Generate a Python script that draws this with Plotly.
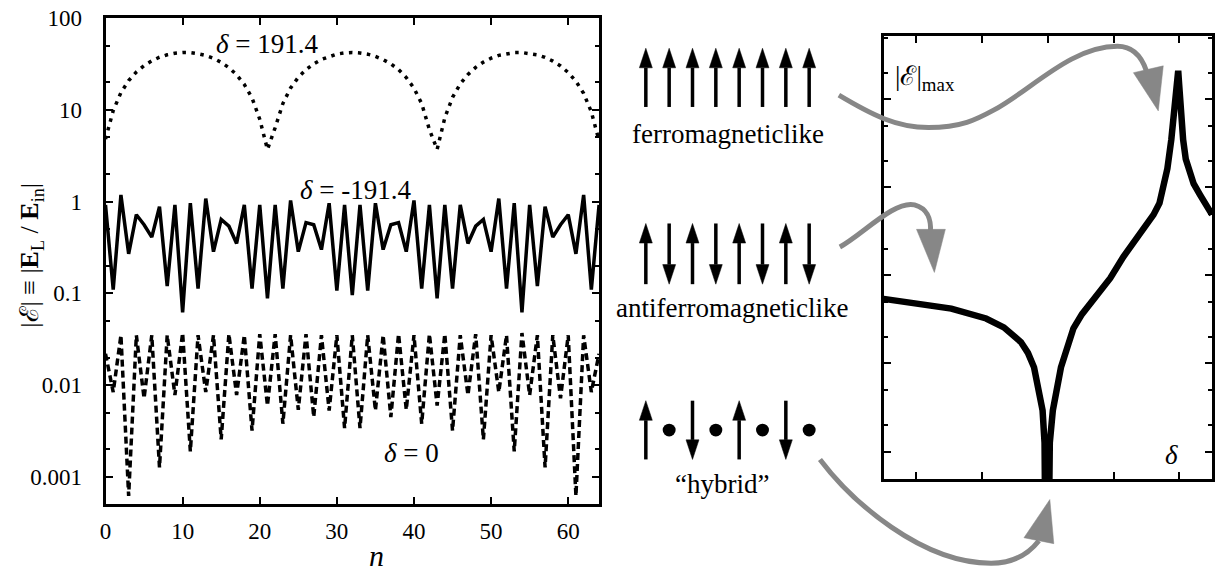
import plotly.graph_objects as go

W, H = 1217, 573

# ---------------- data: left panel ----------------
n = list(range(65))
e_pos = [4.8, 9.8, 15.4, 20.8, 25.8, 30.3, 34.2, 37.4, 39.8, 41.4,
         42.1, 42.0, 40.9, 39.1, 36.4, 32.9, 28.8, 24.1, 18.9, 13.5,
         7.9, 3.7, 6.4, 11.7, 17.3, 22.6, 27.4, 31.7, 35.4, 38.3,
         40.5, 41.7, 42.2, 41.7, 40.4, 38.2, 35.3, 31.7, 27.4, 22.5,
         17.2, 11.7, 6.1, 3.7, 8.2, 13.7, 19.2, 24.3, 29.0, 33.1,
         36.5, 39.2, 41.0, 42.0, 42.1, 41.3, 39.7, 37.3, 34.0, 30.1,
         25.5, 20.5, 15.1, 9.5, 4.6]
e_neg = [0.92, 0.11, 1.18, 0.27, 0.72, 0.56, 0.41, 0.88, 0.12, 0.92,
         0.062, 0.96, 0.113, 1.08, 0.285, 0.64, 0.54, 0.35, 0.92, 0.113,
         0.92, 0.088, 0.92, 0.113, 1.03, 0.285, 0.59, 0.56, 0.30, 0.96,
         0.107, 0.92, 0.096, 0.92, 0.107, 0.96, 0.30, 0.56, 0.59, 0.285,
         1.03, 0.113, 0.92, 0.088, 0.92, 0.113, 0.92, 0.35, 0.54, 0.64,
         0.285, 1.08, 0.113, 0.96, 0.062, 0.92, 0.12, 0.88, 0.41, 0.56,
         0.72, 0.27, 1.18, 0.11, 0.92]
e_zero = [0.022, 0.0084, 0.035, 0.00062, 0.035, 0.0072, 0.035, 0.00127, 0.035, 0.0078,
          0.037, 0.0019, 0.035, 0.0084, 0.035, 0.00256, 0.036, 0.0078, 0.035, 0.0032,
          0.036, 0.006, 0.036, 0.0038, 0.035, 0.0054, 0.036, 0.0045, 0.035, 0.0053,
          0.035, 0.0034, 0.035, 0.0034, 0.035, 0.0053, 0.035, 0.0045, 0.036, 0.0054,
          0.035, 0.0038, 0.036, 0.006, 0.036, 0.0032, 0.035, 0.0078, 0.036, 0.00256,
          0.035, 0.0084, 0.035, 0.0019, 0.037, 0.0078, 0.035, 0.00127, 0.035, 0.0072,
          0.035, 0.00062, 0.035, 0.0084, 0.022]
left_xticks = [0, 10, 20, 30, 40, 50, 60]
left_yticks = [0.001, 0.01, 0.1, 1, 10, 100]
left_yticklabels = ["0.001", "0.01", "0.1", "1", "10", "100"]
left_yminor = [0.002, 0.005, 0.02, 0.05, 0.2, 0.5, 2, 5, 20, 50]

# ---------------- data: right panel (schematic) ----------------
d_x = [0.0, 0.5, 1.03, 1.56, 1.83, 2.09, 2.197, 2.29, 2.36, 2.42, 2.45, 2.485,
       2.53, 2.576, 2.70, 2.79, 2.89, 3.02, 3.15, 3.45, 3.65, 3.88, 4.11, 4.20,
       4.26, 4.32, 4.38, 4.42, 4.47, 4.485, 4.50, 4.53, 4.56, 4.60, 4.64, 4.72,
       4.82, 4.91, 5.0]
d_emax = [54.1, 47.6, 41.9, 32.4, 25.7, 17.5, 13.2, 9.04, 5.14, 2.93, 1.26, 0.001,
          1.26, 2.93, 9.04, 14.3, 25.1, 36.3, 48.9, 92.7, 162.6, 285.8, 488.7, 660.7,
          977, 1626, 3467, 6166, 14454, 21000, 14454, 6607, 3467, 2089, 1622, 1096,
          815, 631, 489]
right_xticks = [0.5, 1.5, 2.5, 3.5, 4.5]
right_yticks = [1, 10, 100, 1000, 10000]
right_yminor = [2, 5, 20, 50, 200, 500, 2000, 5000, 20000, 50000]

# spin configurations (1 = up, -1 = down, 0 = dot)
ferro = [1, 1, 1, 1, 1, 1, 1, 1]
antiferro = [1, -1, 1, -1, 1, -1, 1, -1]
hybrid = [1, 0, -1, 0, 1, 0, -1, 0]

SERIF = "'Liberation Serif', 'Times New Roman', Times, 'DejaVu Serif', serif"

fig = go.Figure()
fig.add_trace(go.Scatter(x=n, y=e_pos, mode="lines",
                         line=dict(color="black", width=3.5, dash="3.5px,5.5px"),
                         xaxis="x", yaxis="y", showlegend=False))
fig.add_trace(go.Scatter(x=n, y=e_neg, mode="lines",
                         line=dict(color="black", width=3.5),
                         xaxis="x", yaxis="y", showlegend=False))
fig.add_trace(go.Scatter(x=n, y=e_zero, mode="lines",
                         line=dict(color="black", width=3.5, dash="7px,4px"),
                         xaxis="x", yaxis="y", showlegend=False))
fig.add_trace(go.Scatter(x=d_x, y=d_emax, mode="lines",
                         line=dict(color="black", width=6.5),
                         xaxis="x2", yaxis="y2", showlegend=False))


def X(p):
    return p / W


def Y(p):
    return 1 - p / H


def pt(a, b):
    return f"{X(a):.5f},{Y(b):.5f}"


def curve_path(start, segs):
    s = "M " + pt(*start)
    for c1, c2, e in segs:
        s += " C " + pt(*c1) + " " + pt(*c2) + " " + pt(*e)
    return s


def poly_path(pts):
    s = "M " + pt(*pts[0])
    for p in pts[1:]:
        s += " L " + pt(*p)
    return s + " Z"


shapes = []
GRAY = "#878787"

# gray curved arrows
gray_curves = [
    ((837, 85), [((870, 105), (895, 118), (927, 118)),
                 ((960, 118), (975, 110), (993, 100)),
                 ((1030, 80), (1070, 35), (1117, 35)),
                 ((1130, 35), (1140, 42), (1146, 60))]),
    ((838, 240), [((860, 228), (893, 192), (913, 197)),
                  ((927, 201), (930, 212), (929, 226))]),
    ((818, 457), [((850, 500), (920, 563), (990, 563)),
                  ((1012, 563), (1028, 553), (1038, 540))]),
]
gray_heads = [
    [(1133, 62), (1163, 55), (1158, 101)],
    [(915, 222), (944, 222), (933, 266)],
    [(1023, 537), (1053, 543), (1049, 498)],
]
for start, segs in gray_curves:
    shapes.append(dict(type="path", xref="paper", yref="paper",
                       path=curve_path(start, segs),
                       line=dict(color=GRAY, width=5)))
for h in gray_heads:
    shapes.append(dict(type="path", xref="paper", yref="paper", path=poly_path(h),
                       line=dict(color=GRAY, width=0.5), fillcolor=GRAY))

# spin arrows
spin_x0, spin_dx = 643, 23.45
rows = [(ferro, 37, 97), (antiferro, 216, 278), (hybrid, 397, 457)]
for spins, top, bot in rows:
    for i, s in enumerate(spins):
        cx = spin_x0 + i * spin_dx
        if s == 0:
            cy = (top + bot) / 2
            r = 6.5
            shapes.append(dict(type="circle", xref="paper", yref="paper",
                               x0=X(cx - r), x1=X(cx + r), y0=Y(cy + r), y1=Y(cy - r),
                               fillcolor="black", line=dict(color="black", width=0)))
            continue
        if s > 0:
            tip, base, tail = top, top + 20, bot
        else:
            tip, base, tail = bot, bot - 20, top
        shapes.append(dict(type="line", xref="paper", yref="paper",
                           x0=X(cx), x1=X(cx), y0=Y(tail), y1=Y(base),
                           line=dict(color="black", width=3.5)))
        shapes.append(dict(type="path", xref="paper", yref="paper",
                           path=poly_path([(cx - 6.5, base), (cx + 6.5, base), (cx, tip)]),
                           fillcolor="black", line=dict(color="black", width=0.5)))

fig.update_layout(shapes=shapes)


def ann(text, x, y, size=27, xanchor="center", angle=0):
    return dict(text=text, x=X(x), y=Y(y), xref="paper", yref="paper",
                showarrow=False, xanchor=xanchor, yanchor="middle",
                textangle=angle,
                font=dict(family=SERIF, size=size, color="black"))


annotations = [
    ann("<i>δ</i> = 191.4", 263, 33),
    ann("<i>δ</i> = -191.4", 352, 182),
    ann("<i>δ</i> = 0", 408, 450),
    ann("<i>n</i>", 372, 555, size=30),
    ann("|ℰ| ≡ |<b>E</b><sub>L</sub> / <b>E</b><sub>in</sub>|", 25, 248, size=26, angle=-90),
    ann("ferromagneticlike", 726, 125),
    ann("antiferromagneticlike", 730, 302),
    ann("“hybrid”", 720, 482),
    ann("|ℰ|<sub>max</sub>", 891, 67, xanchor="left"),
    ann("<i>δ</i>", 1171, 452),
]
fig.update_layout(annotations=annotations)

axis_common = dict(showline=True, linecolor="black", linewidth=3, mirror="ticks",
                   ticks="inside", tickcolor="black", tickwidth=2, ticklen=7,
                   showgrid=False, zeroline=False)

fig.update_layout(
    width=W, height=H,
    margin=dict(l=0, r=0, t=0, b=0),
    paper_bgcolor="white", plot_bgcolor="white",
    font=dict(family=SERIF, color="black"),
    xaxis=dict(domain=[X(100), X(596)], range=[0, 64], tickvals=left_xticks,
               tickfont=dict(family=SERIF, size=23, color="black"),
               ticklabelstandoff=4, anchor="y", **axis_common),
    yaxis=dict(domain=[Y(503), Y(6)], type="log", range=[-3.3, 2.002],
               tickvals=left_yticks, ticktext=left_yticklabels,
               tickfont=dict(family=SERIF, size=23, color="black"),
               ticklabelstandoff=16, ticklabeloverflow="allow", anchor="x",
               minor=dict(tickvals=left_yminor, ticks="inside", ticklen=4,
                          tickcolor="black", tickwidth=2),
               **axis_common),
    xaxis2=dict(domain=[X(882), X(1212)], range=[0, 5], tickvals=right_xticks,
                showticklabels=False, anchor="y2", **axis_common),
    yaxis2=dict(domain=[Y(477), Y(25)], type="log", range=[-0.311, 4.711],
                tickvals=right_yticks, showticklabels=False, anchor="x2",
                minor=dict(tickvals=right_yminor, ticks="inside", ticklen=4,
                           tickcolor="black", tickwidth=2),
                **axis_common),
)

fig.write_html("out.html", config={"displayModeBar": False},
               post_script="document.body.style.margin='0';document.body.style.overflow='hidden';")
